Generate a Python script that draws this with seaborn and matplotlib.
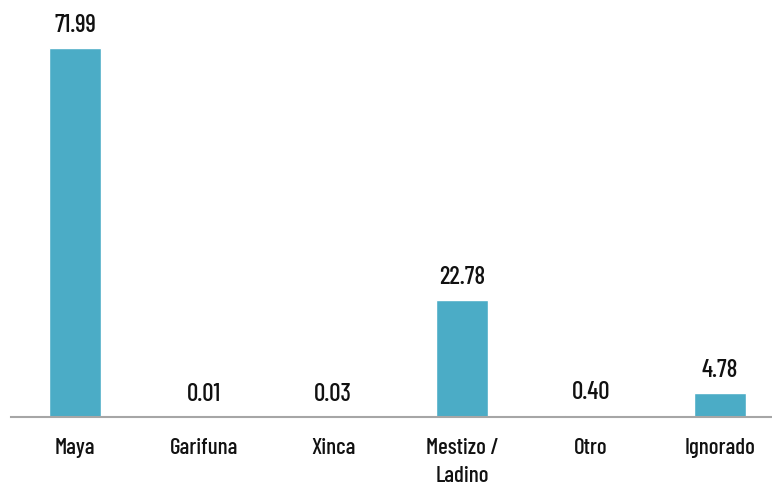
import matplotlib
matplotlib.use("Agg")
import matplotlib.pyplot as plt
import seaborn as sns
import pandas as pd

categories = ["Maya", "Garifuna", "Xinca", "Mestizo /\nLadino", "Otro", "Ignorado"]
values = [71.99, 0.01, 0.03, 22.78, 0.40, 4.78]
labels = ["71.99", "0.01", "0.03", "22.78", "0.40", "4.78"]

sns.set_theme(style="white")
plt.rcParams['font.family'] = ['Barlow Condensed', 'DejaVu Sans']

df = pd.DataFrame({"cat": categories, "val": values})

fig = plt.figure(figsize=(7.72, 4.84), dpi=100)
ax = fig.add_axes([10.5 / 772, 67 / 484, 774 / 772, 410 / 484])
sns.barplot(data=df, x="cat", y="val", color="#4BACC6", saturation=1, width=0.40, ax=ax)

ax.set_xlim(-0.5, 5.5)
ax.set_ylim(0, 80)
ax.set_xlabel("")
ax.set_ylabel("")
ax.set_yticks([])
for s in ["top", "right", "left"]:
    ax.spines[s].set_visible(False)
ax.spines["bottom"].set_color("#A6A6A6")
ax.spines["bottom"].set_linewidth(1.5)
ax.tick_params(axis="x", length=0, pad=15, labelsize=16.5, labelcolor="#111111")
for t in ax.get_xticklabels():
    t.set_fontweight(500)
    t.set_linespacing(1.5)

for i, (v, lab) in enumerate(zip(values, labels)):
    ax.annotate(lab, (i, v), xytext=(0, 11.5), textcoords="offset points",
                ha="center", va="baseline", fontsize=18, fontweight=500, color="#111111")

fig.savefig("out.png", dpi=100)
